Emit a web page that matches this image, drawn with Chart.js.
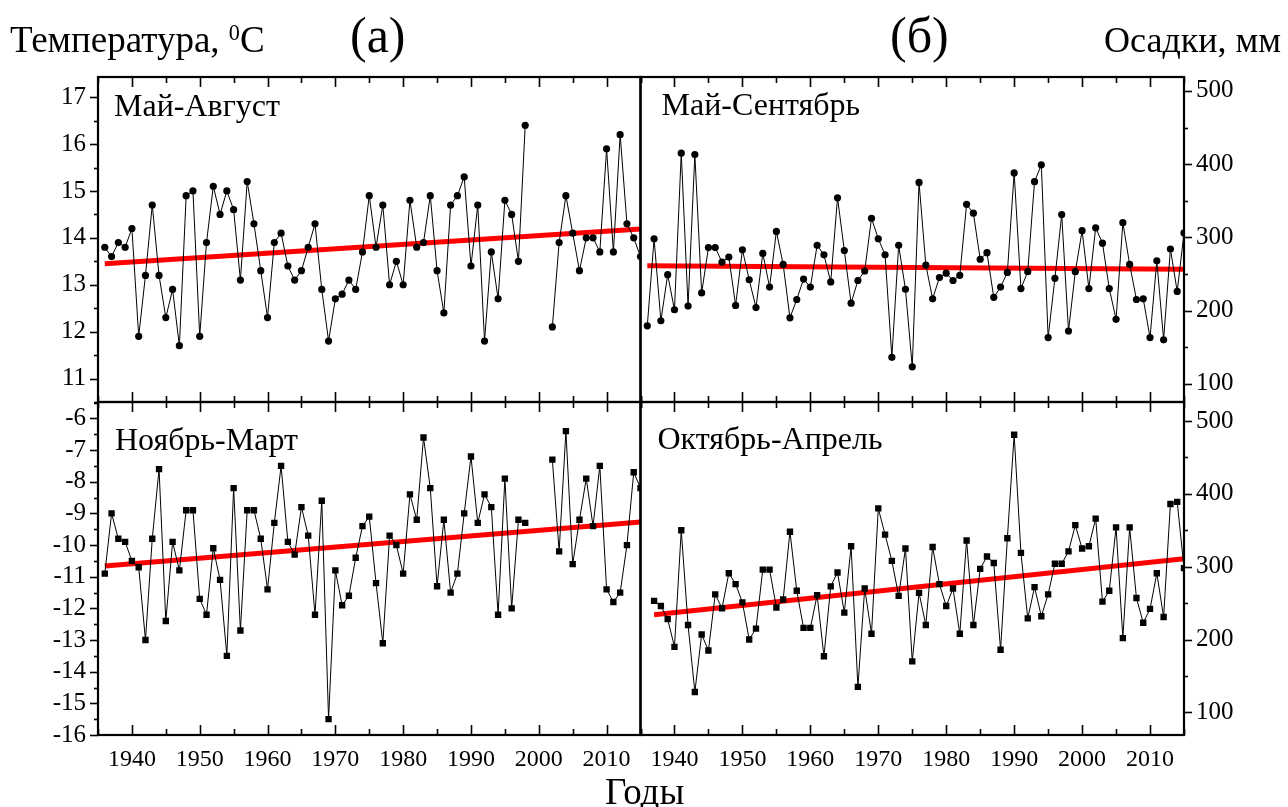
<!DOCTYPE html>
<html>
<head>
<meta charset="utf-8">
<script src="https://cdn.jsdelivr.net/npm/chart.js@4.4.0/dist/chart.umd.min.js"></script>
<style>
  body { margin: 0; background: #fff; }
  #wrap { position: relative; width: 1288px; height: 807px; overflow: hidden;
          font-family: "Liberation Serif", "Times New Roman", serif; color: #000; }
  #wrap canvas { position: absolute; left: 0; top: 0; }
  .t { position: absolute; white-space: nowrap; line-height: 1; }
  .sup { font-size: 60%; position: relative; top: -0.55em; }
</style>
</head>
<body>
<div id="wrap">
  <canvas id="cTL" width="1288" height="807"></canvas>
  <canvas id="cTR" width="1288" height="807"></canvas>
  <canvas id="cBL" width="1288" height="807"></canvas>
  <canvas id="cBR" width="1288" height="807"></canvas>
  <div class="t" style="left:10px;top:21px;font-size:37px">Температура, <span class="sup">0</span>C</div>
  <div class="t" style="left:350px;top:10px;font-size:50px">(а)</div>
  <div class="t" style="left:890px;top:10px;font-size:50px">(б)</div>
  <div class="t" style="left:1104px;top:22px;font-size:36px">Осадки, мм</div>
  <div class="t" style="left:605px;top:773px;font-size:37px">Годы</div>
</div>
<script>
const FONT = '"Liberation Serif", "Times New Roman", serif';

// years 1936-2015
const years = [1936,1937,1938,1939,1940,1941,1942,1943,1944,1945,
               1946,1947,1948,1949,1950,1951,1952,1953,1954,1955,
               1956,1957,1958,1959,1960,1961,1962,1963,1964,1965,
               1966,1967,1968,1969,1970,1971,1972,1973,1974,1975,
               1976,1977,1978,1979,1980,1981,1982,1983,1984,1985,
               1986,1987,1988,1989,1990,1991,1992,1993,1994,1995,
               1996,1997,1998,1999,2000,2001,2002,2003,2004,2005,
               2006,2007,2008,2009,2010,2011,2012,2013,2014,2015];
const yearTicks = [1940,1950,1960,1970,1980,1990,2000,2010];
const tempTicksTop = [11,12,13,14,15,16,17];
const tempTicksBottom = [-16,-15,-14,-13,-12,-11,-10,-9,-8,-7,-6];
const precTicks = [100,200,300,400,500];

// (а) temperature, May-August
const tempMayAug = [13.8,13.6,13.9,13.8,14.2,11.9,13.2,14.7,13.2,12.3,
                    12.9,11.7,14.9,15.0,11.9,13.9,15.1,14.5,15.0,14.6,
                    13.1,15.2,14.3,13.3,12.3,13.9,14.1,13.4,13.1,13.3,
                    13.8,14.3,12.9,11.8,12.7,12.8,13.1,12.9,13.7,14.9,
                    13.8,14.7,13.0,13.5,13.0,14.8,13.8,13.9,14.9,13.3,
                    12.4,14.7,14.9,15.3,13.4,14.7,11.8,13.7,12.7,14.8,
                    14.5,13.5,16.4,null,null,null,12.1,13.9,14.9,14.1,
                    13.3,14.0,14.0,13.7,15.9,13.7,16.2,14.3,14.0,13.6];
// (а) temperature, November-March
const tempNovMar = [-10.9,-9.0,-9.8,-9.9,-10.5,-10.7,-13.0,-9.8,-7.6,-12.4,
                    -9.9,-10.8,-8.9,-8.9,-11.7,-12.2,-10.1,-11.1,-13.5,-8.2,
                    -12.7,-8.9,-8.9,-9.8,-11.4,-9.3,-7.5,-9.9,-10.3,-8.8,
                    -9.7,-12.2,-8.6,-15.5,-10.8,-11.9,-11.6,-10.4,-9.4,-9.1,
                    -11.2,-13.1,-9.7,-10.0,-10.9,-8.4,-9.2,-6.6,-8.2,-11.3,
                    -9.2,-11.5,-10.9,-9.0,-7.2,-9.3,-8.4,-8.8,-12.2,-7.9,
                    -12.0,-9.2,-9.3,null,null,null,-7.3,-10.2,-6.4,-10.6,
                    -9.2,-7.9,-9.4,-7.5,-11.4,-11.8,-11.5,-10.0,-7.7,-8.2];
// (б) precipitation, May-September
const precMaySep = [179,298,186,249,201,415,206,413,224,286,
                    286,266,273,207,283,242,204,278,232,308,
                    263,190,215,243,232,289,276,239,354,282,
                    210,241,254,326,298,276,136,289,229,123,
                    375,262,216,245,251,241,248,345,333,270,
                    279,218,232,252,388,230,253,376,399,163,
                    244,331,172,253,309,230,313,292,230,188,
                    320,263,215,216,163,268,160,284,226,306];
// (б) precipitation, October-April
const precOctApr = [null,253,246,228,190,350,220,128,207,185,
                    262,243,291,276,251,200,215,296,296,244,
                    255,348,267,216,216,261,177,273,292,237,
                    328,135,270,208,380,344,308,260,325,170,
                    264,220,327,276,246,270,208,336,220,297,
                    314,305,186,339,481,319,229,272,232,262,
                    304,304,321,357,325,328,366,252,267,354,
                    202,354,257,223,242,291,231,386,389,298];

// linear trends (end points)
const trendYearsA = [1936, 2015];
const trendMayAug = [13.45, 14.19];
const trendNovMar = [-10.66, -9.27];
const trendMaySep = [261, 256.5];
const trendYearsOA = [1937, 2015];
const trendOctApr = [234, 311];

const framePlugin = {
  id: 'frame',
  afterDraw(chart, args, o) {
    const { ctx, chartArea: a, scales } = chart;
    const xs = scales.x, ys = scales.y;
    ctx.save();
    ctx.strokeStyle = '#000';
    // x ticks, inward, top and bottom
    ctx.lineWidth = 1.6;
    for (let yr = 1935; yr <= 2015; yr += 5) {
      const x = Math.round(xs.getPixelForValue(yr)) + 0.5;
      const len = yr % 10 === 0 ? 10 : 6;
      ctx.beginPath();
      ctx.moveTo(x, a.top); ctx.lineTo(x, a.top + len);
      ctx.moveTo(x, a.bottom); ctx.lineTo(x, a.bottom - len);
      ctx.stroke();
    }
    // y ticks, outward
    const n0 = Math.ceil(ys.min / o.minor - 1e-9), n1 = Math.floor(ys.max / o.minor + 1e-9);
    for (let n = n0; n <= n1; n++) {
      const v = n * o.minor;
      const y = Math.round(ys.getPixelForValue(v)) + 0.5;
      const major = Math.abs(v / o.major - Math.round(v / o.major)) < 1e-6;
      const len = major ? 8 : 4;
      const x0 = o.side === 'left' ? a.left : a.right;
      const x1 = o.side === 'left' ? a.left - len : a.right + len;
      ctx.beginPath(); ctx.moveTo(x0, y); ctx.lineTo(x1, y); ctx.stroke();
    }
    // frame
    ctx.lineWidth = 2.2;
    ctx.strokeRect(a.left, a.top, a.right - a.left, a.bottom - a.top);
    // season label
    ctx.fillStyle = '#000';
    ctx.font = '32px ' + FONT;
    ctx.textBaseline = 'alphabetic';
    ctx.fillText(o.label, a.left + o.lx, a.top + o.ly);
    ctx.restore();
  }
};

function panel(id, o) {
  return new Chart(document.getElementById(id), {
    type: 'line',
    plugins: [framePlugin],
    data: {
      datasets: [
        {
          data: years.map((x, i) => ({ x: x, y: o.vals[i] })),
          borderColor: '#000', borderWidth: 1,
          pointStyle: o.point, pointRadius: o.point === 'rect' ? 4.5 : 3.6,
          pointBackgroundColor: '#000', pointBorderColor: '#000', pointBorderWidth: 0,
          spanGaps: false, order: 1
        },
        {
          data: o.trendX.map((x, i) => ({ x: x, y: o.trendY[i] })),
          borderColor: '#ff0000', borderWidth: 5, pointRadius: 0, order: 2
        }
      ]
    },
    options: {
      responsive: false, animation: false, devicePixelRatio: 1, events: [],
      layout: { padding: o.pad },
      plugins: {
        legend: { display: false }, tooltip: { enabled: false },
        frame: { side: o.side, major: o.step, minor: o.step / 2, label: o.label, lx: o.lx, ly: o.ly }
      },
      scales: {
        x: {
          type: 'linear', min: 1935, max: 2015, display: o.showX, position: 'bottom',
          grid: { display: false, drawTicks: false }, border: { display: false },
          afterBuildTicks: s => { s.ticks = yearTicks.map(v => ({ value: v })); },
          ticks: { autoSkip: false, maxRotation: 0, padding: 10,
                   color: '#000', font: { family: FONT, size: 24 }, callback: v => String(v) },
          afterFit: s => { if (o.showX) s.height = 50; }
        },
        y: {
          type: 'linear', position: o.side, min: o.min, max: o.max,
          grid: { display: false, drawTicks: false }, border: { display: false },
          afterBuildTicks: s => { s.ticks = o.ticks.map(v => ({ value: v })); },
          ticks: { padding: 12, autoSkip: false,
                   color: '#000', font: { family: FONT, size: 25 }, callback: v => String(v) },
          afterFit: s => { s.width = o.side === 'left' ? 98 : 104; }
        }
      }
    }
  });
}

panel('cTL', { vals: tempMayAug, trendX: trendYearsA, trendY: trendMayAug, point: 'circle',
  side: 'left', min: 10.5, max: 17.43, step: 1, ticks: tempTicksTop, showX: false,
  pad: { left: 0, right: 647.5, top: 77, bottom: 405 }, label: 'Май-Август', lx: 16, ly: 39 });
panel('cBL', { vals: tempNovMar, trendX: trendYearsA, trendY: trendNovMar, point: 'rect',
  side: 'left', min: -16, max: -5.48, step: 1, ticks: tempTicksBottom, showX: true,
  pad: { left: 0, right: 647.5, top: 402, bottom: 22 }, label: 'Ноябрь-Март', lx: 17, ly: 48 });
panel('cTR', { vals: precMaySep, trendX: trendYearsA, trendY: trendMaySep, point: 'circle',
  side: 'right', min: 75, max: 519, step: 100, ticks: precTicks, showX: false,
  pad: { left: 640.5, right: 0, top: 77, bottom: 405 }, label: 'Май-Сентябрь', lx: 21, ly: 38 });
panel('cBR', { vals: precOctApr, trendX: trendYearsOA, trendY: trendOctApr, point: 'rect',
  side: 'right', min: 69, max: 526, step: 100, ticks: precTicks, showX: true,
  pad: { left: 640.5, right: 0, top: 402, bottom: 22 }, label: 'Октябрь-Апрель', lx: 17, ly: 47 });
</script>
</body>
</html>
